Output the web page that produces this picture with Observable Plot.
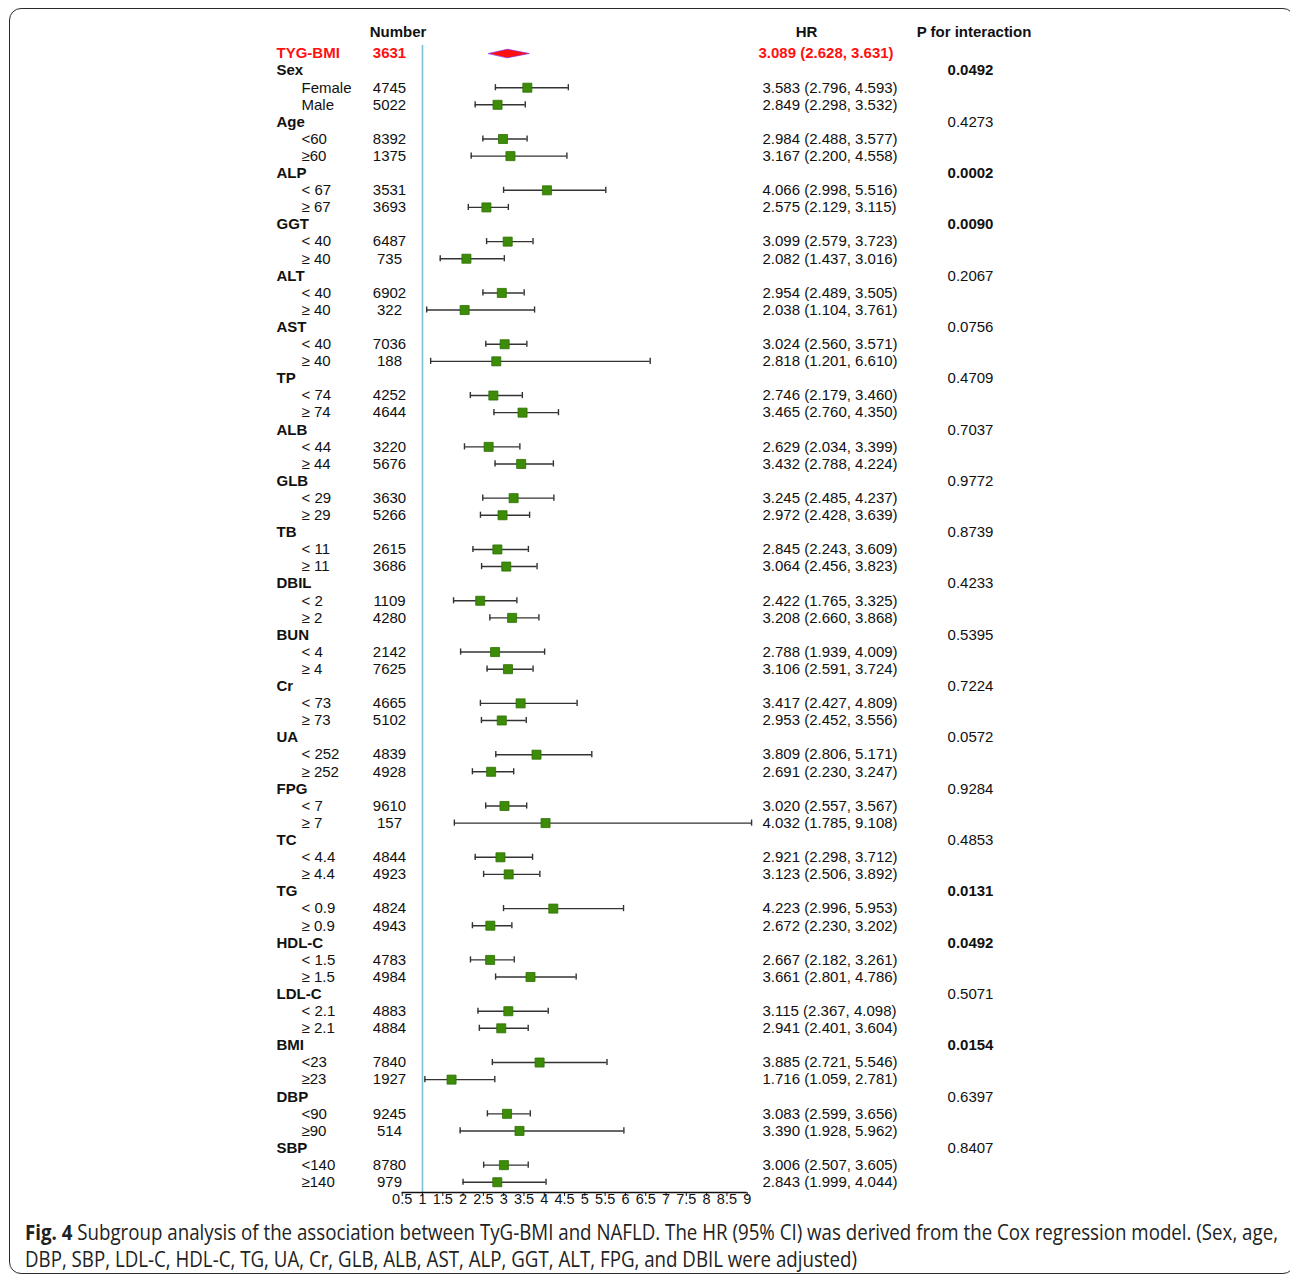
<!DOCTYPE html>
<html>
<head>
<meta charset="utf-8">
<script src="https://cdn.jsdelivr.net/npm/d3@7"></script>
<script src="https://cdn.jsdelivr.net/npm/@observablehq/plot@0.6"></script>
<style>
  html, body { margin: 0; padding: 0; background: #fff; overflow: hidden; }
  #page { position: relative; width: 1290px; height: 1278px; }
  #frame { position: absolute; left: 9px; top: 8px; width: 1286px; height: 1266px;
           border: 1.6px solid #2b2b2b; border-radius: 12px; box-sizing: border-box; }
  #chart { position: absolute; left: 0; top: 0; }
  #caption { position: absolute; left: 25px; top: 1219px; font-family: "Open Sans", sans-serif;
             font-size: 21px; line-height: 27px; color: #222; transform-origin: 0 0; white-space: nowrap; }
  #caption b { font-weight: 700; }
  #caption span { display: block; }
</style>
</head>
<body>
<div id="page">
  <div id="frame"></div>
  <div id="chart"></div>
  <div id="caption">
    <span id="cap1"><b>Fig. 4</b> Subgroup analysis of the association between TyG-BMI and NAFLD. The HR (95% CI) was derived from the Cox regression model. (Sex, age,</span>
    <span id="cap2">DBP, SBP, LDL-C, HDL-C, TG, UA, Cr, GLB, ALB, AST, ALP, GGT, ALT, FPG, and DBIL were adjusted)</span>
  </div>
</div>
<script>
// ---------- data ----------
const overallLabel = "TYG-BMI";
const overallNumber = 3631;
const overallHR = [3.089, 2.628, 3.631];

const groups = ["Sex","Age","ALP","GGT","ALT","AST","TP","ALB","GLB","TB","DBIL","BUN","Cr","UA","FPG","TC","TG","HDL-C","LDL-C","BMI","DBP","SBP"];
const pValues = ["0.0492","0.4273","0.0002","0.0090","0.2067","0.0756","0.4709","0.7037","0.9772","0.8739","0.4233","0.5395","0.7224","0.0572","0.9284","0.4853","0.0131","0.0492","0.5071","0.0154","0.6397","0.8407"];

const subLabels = [
  "Female","Male", "<60","≥60", "< 67","≥ 67", "< 40","≥ 40", "< 40","≥ 40", "< 40","≥ 40",
  "< 74","≥ 74", "< 44","≥ 44", "< 29","≥ 29", "< 11","≥ 11", "< 2","≥ 2", "< 4","≥ 4",
  "< 73","≥ 73", "< 252","≥ 252", "< 7","≥ 7", "< 4.4","≥ 4.4", "< 0.9","≥ 0.9", "< 1.5","≥ 1.5",
  "< 2.1","≥ 2.1", "<23","≥23", "<90","≥90", "<140","≥140"
];
const numbers = [4745,5022, 8392,1375, 3531,3693, 6487,735, 6902,322, 7036,188,
  4252,4644, 3220,5676, 3630,5266, 2615,3686, 1109,4280, 2142,7625,
  4665,5102, 4839,4928, 9610,157, 4844,4923, 4824,4943, 4783,4984,
  4883,4884, 7840,1927, 9245,514, 8780,979];
const hr = [3.583,2.849, 2.984,3.167, 4.066,2.575, 3.099,2.082, 2.954,2.038, 3.024,2.818,
  2.746,3.465, 2.629,3.432, 3.245,2.972, 2.845,3.064, 2.422,3.208, 2.788,3.106,
  3.417,2.953, 3.809,2.691, 3.020,4.032, 2.921,3.123, 4.223,2.672, 2.667,3.661,
  3.115,2.941, 3.885,1.716, 3.083,3.390, 3.006,2.843];
const lower = [2.796,2.298, 2.488,2.200, 2.998,2.129, 2.579,1.437, 2.489,1.104, 2.560,1.201,
  2.179,2.760, 2.034,2.788, 2.485,2.428, 2.243,2.456, 1.765,2.660, 1.939,2.591,
  2.427,2.452, 2.806,2.230, 2.557,1.785, 2.298,2.506, 2.996,2.230, 2.182,2.801,
  2.367,2.401, 2.721,1.059, 2.599,1.928, 2.507,1.999];
const upper = [4.593,3.532, 3.577,4.558, 5.516,3.115, 3.723,3.016, 3.505,3.761, 3.571,6.610,
  3.460,4.350, 3.399,4.224, 4.237,3.639, 3.609,3.823, 3.325,3.868, 4.009,3.724,
  4.809,3.556, 5.171,3.247, 3.567,9.108, 3.712,3.892, 5.953,3.202, 3.261,4.786,
  4.098,3.604, 5.546,2.781, 3.656,5.962, 3.605,4.044];
const xTicks = [0.5,1,1.5,2,2.5,3,3.5,4,4.5,5,5.5,6,6.5,7,7.5,8,8.5,9];

// ---------- tables ----------
const fmt = v => v.toFixed(3);
const headers = groups.map((g, i) => ({row: 1 + 3 * i, label: g, p: pValues[i], bold: +pValues[i] < 0.05}));
const subs = subLabels.map((s, j) => {
  const gi = Math.floor(j / 2);
  return {row: 2 + 3 * gi + (j % 2), label: s, n: numbers[j], hr: hr[j], lo: lower[j], hi: upper[j],
          text: `${fmt(hr[j])} (${fmt(lower[j])}, ${fmt(upper[j])})`};
});
const overall = {row: 0, label: overallLabel, n: overallNumber, hr: overallHR[0], lo: overallHR[1], hi: overallHR[2],
  text: `${fmt(overallHR[0])} (${fmt(overallHR[1])}, ${fmt(overallHR[2])})`};
const diamond = [
  {x: overall.lo, y: 0}, {x: overall.hr, y: -0.25}, {x: overall.hi, y: 0}, {x: overall.hr, y: 0.25}
];

// ---------- layout ----------
const W = 1290, H = 1215, mLeft = 401.7, mRight = 746.7, mTop = 53, axisY = 1192;
const yMax = 66.6;
const font = "Liberation Sans, Arial, sans-serif";
const fs = 15;
const red = "#ff1010";

const chart = Plot.plot({
  width: W, height: H,
  marginLeft: mLeft, marginRight: W - mRight, marginTop: mTop, marginBottom: H - axisY,
  style: {fontFamily: font, fontSize: "14.5px", color: "#111", background: "transparent", overflow: "visible"},
  x: {domain: [0.5, 9], ticks: xTicks, label: null},
  y: {domain: [0, yMax], reverse: true, axis: null},
  marks: [
    Plot.ruleX([1], {y1: -0.47, y2: yMax, stroke: "#76c3d3", strokeWidth: 1.6}),
    Plot.ruleY([yMax], {x1: 0.5, x2: 9, stroke: "#111", strokeWidth: 1.4}),
    Plot.axisX({ticks: xTicks, tickFormat: d => String(d), tickSize: 4, tickPadding: -3, fontSize: 14.5, label: null}),
    Plot.ruleY(subs, {y: "row", x1: "lo", x2: "hi", stroke: "#333", strokeWidth: 1.4}),
    Plot.ruleX(subs, {x: "lo", y1: d => d.row - 0.18, y2: d => d.row + 0.18, stroke: "#333", strokeWidth: 1.4}),
    Plot.ruleX(subs, {x: "hi", y1: d => d.row - 0.18, y2: d => d.row + 0.18, stroke: "#333", strokeWidth: 1.4}),
    Plot.dot(subs, {x: "hr", y: "row", symbol: "square", r: 5.1, fill: "#3c8c08", stroke: "#2f6e05", strokeWidth: 0.8}),
    Plot.line(diamond, {x: "x", y: "y", curve: "linear-closed", fill: red, stroke: "#8a2be2", strokeWidth: 0.7}),
    Plot.text(["Number"], {frameAnchor: "top-left", dx: -4.2, dy: -21, text: d => d, fontWeight: "bold", fontSize: fs, textAnchor: "middle", lineAnchor: "middle"}),
    Plot.text(["HR"], {frameAnchor: "top-right", dx: 59.3, dy: -21, text: d => d, fontWeight: "bold", fontSize: fs, textAnchor: "middle", lineAnchor: "middle"}),
    Plot.text(["P for interaction"], {frameAnchor: "top-right", dx: 226.8, dy: -21, text: d => d, fontWeight: "bold", fontSize: fs, textAnchor: "middle", lineAnchor: "middle"}),
    Plot.text([overall], {y: "row", frameAnchor: "left", dx: -125.7, text: "label", fill: red, fontWeight: "bold", fontSize: fs, textAnchor: "start"}),
    Plot.text([overall], {y: "row", frameAnchor: "left", dx: -12.7, text: d => String(d.n), fill: red, fontWeight: "bold", fontSize: fs, textAnchor: "middle"}),
    Plot.text([overall], {y: "row", frameAnchor: "right", dx: 11.3, text: "text", fill: red, fontWeight: "bold", fontSize: fs, textAnchor: "start"}),
    Plot.text(headers, {y: "row", frameAnchor: "left", dx: -125.7, text: "label", fontWeight: "bold", fontSize: fs, textAnchor: "start"}),
    Plot.text(headers.filter(d => d.bold), {y: "row", frameAnchor: "right", dx: 223.3, text: "p", fontWeight: "bold", fontSize: fs, textAnchor: "middle"}),
    Plot.text(headers.filter(d => !d.bold), {y: "row", frameAnchor: "right", dx: 223.3, text: "p", fontSize: fs, textAnchor: "middle"}),
    Plot.text(subs, {y: "row", frameAnchor: "left", dx: -100.7, text: "label", fontSize: fs, textAnchor: "start"}),
    Plot.text(subs, {y: "row", frameAnchor: "left", dx: -12.7, text: d => String(d.n), fontSize: fs, textAnchor: "middle"}),
    Plot.text(subs, {y: "row", frameAnchor: "right", dx: 15.3, text: "text", fontSize: fs, textAnchor: "start"})
  ]
});
document.getElementById("chart").appendChild(chart);

function fitCaption() {
  const cap = document.getElementById("caption");
  const c1 = document.getElementById("cap1");
  cap.style.transform = "none";
  c1.style.display = "inline-block";
  const w = c1.getBoundingClientRect().width;
  c1.style.display = "block";
  cap.style.transform = `scaleX(${1253 / w})`;
}
fitCaption();
if (document.fonts && document.fonts.ready) document.fonts.ready.then(fitCaption);
</script>
</body>
</html>
